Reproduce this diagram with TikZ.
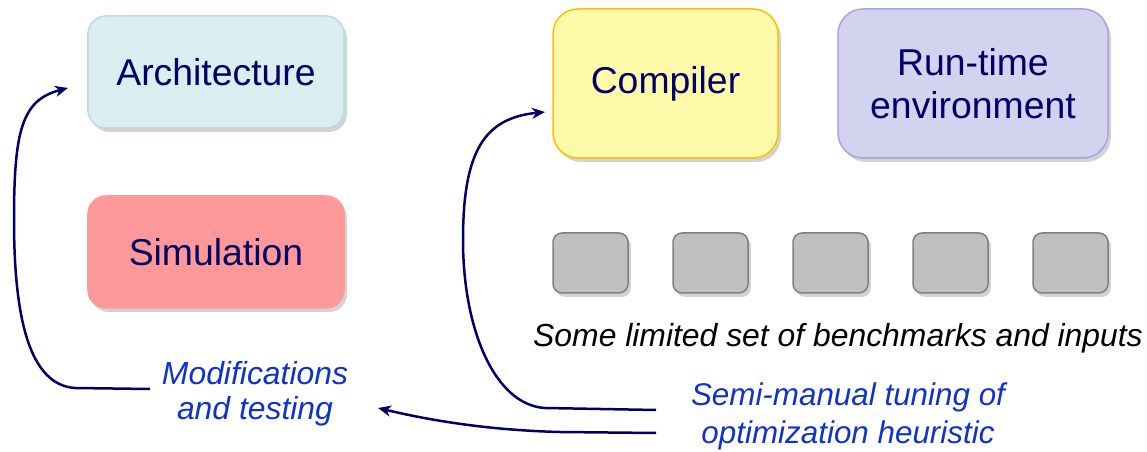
\documentclass[tikz,border=0pt]{standalone}
\usepackage{fontspec}
\setmainfont{Liberation Sans}
\usetikzlibrary{shadows,arrows.meta}
\definecolor{navy}{RGB}{0,0,102}
\definecolor{bluetxt}{RGB}{16,50,204}
\definecolor{archfill}{RGB}{218,238,240}
\definecolor{archdraw}{RGB}{183,221,226}
\definecolor{simfill}{RGB}{255,153,153}
\definecolor{compfill}{RGB}{255,250,170}
\definecolor{compdraw}{RGB}{255,192,0}
\definecolor{rtfill}{RGB}{211,211,240}
\definecolor{rtdraw}{RGB}{165,165,224}
\definecolor{grayfill}{RGB}{191,191,191}
\definecolor{graydraw}{RGB}{128,128,128}
\tikzset{
  bigbox/.style={rounded corners=18bp, line width=1.5bp, inner sep=0pt,
    text=navy, font=\fontsize{37.5}{43}\selectfont, align=center,
    drop shadow={shadow xshift=3bp, shadow yshift=-4bp, opacity=0.35}},
  bench/.style={rounded corners=9bp, line width=1.5bp, draw=graydraw, fill=grayfill,
    minimum width=75bp, minimum height=60bp, inner sep=0pt,
    drop shadow={shadow xshift=3bp, shadow yshift=-4bp, opacity=0.35}},
  note/.style={font=\fontsize{32}{36}\selectfont\itshape, align=center, inner sep=0pt},
  arr/.style={draw=navy, line width=2.5bp, -{Stealth[length=13bp,width=11bp,inset=4bp]}}
}
\begin{document}
\begin{tikzpicture}[x=1bp,y=-1bp]
\useasboundingbox (0,0) rectangle (1147,452);
\node[bigbox, draw=archdraw, fill=archfill, minimum width=256bp, minimum height=112bp] (arch) at (216,72) {Architecture};
\node[bigbox, draw=simfill, fill=simfill, minimum width=256bp, minimum height=112bp] (sim) at (216,252) {Simulation};
\node[bigbox, rounded corners=25bp, draw=compdraw, fill=compfill, minimum width=225bp, minimum height=149bp] (comp) at (665.5,83.5) {Compiler};
\node[bigbox, rounded corners=25bp, draw=rtdraw, fill=rtfill, minimum width=270bp, minimum height=149bp] (rt) at (973,83.5) {Run-time\\environment};
\node[bench] (b1) at (590.5,263) {};
\node[bench] (b2) at (710.5,263) {};
\node[bench] (b3) at (830.5,263) {};
\node[bench] (b4) at (950.5,263) {};
\node[bench] (b5) at (1070.5,263) {};
\node[note, text=black] (bench) at (838,338) {Some limited set of benchmarks and inputs};
\node[note, text=bluetxt, font=\fontsize{32}{35}\selectfont\itshape] (mod) at (255,394) {Modifications\\and testing};
\node[note, text=bluetxt, font=\fontsize{31.5}{38}\selectfont\itshape] (semi) at (848,416) {Semi-manual tuning of\\optimization heuristic};
\coordinate (m1) at (150,389);
\coordinate (a1) at (68,88);
\coordinate (s1) at (656,410);
\coordinate (s2) at (656,433);
\coordinate (c1) at (545,112);
\coordinate (t1) at (378,408);
\draw[arr] (m1) -- (75,388) .. controls (30,385) and (14,320) .. (14,220) .. controls (14,130) and (22,100) .. (a1);
\draw[arr] (s1) -- (545,408) .. controls (495,405) and (463,330) .. (463,240) .. controls (463,150) and (485,118) .. (c1);
\draw[arr] (s2) -- (560,432) .. controls (480,430) and (420,418) .. (t1);
\end{tikzpicture}
\end{document}
